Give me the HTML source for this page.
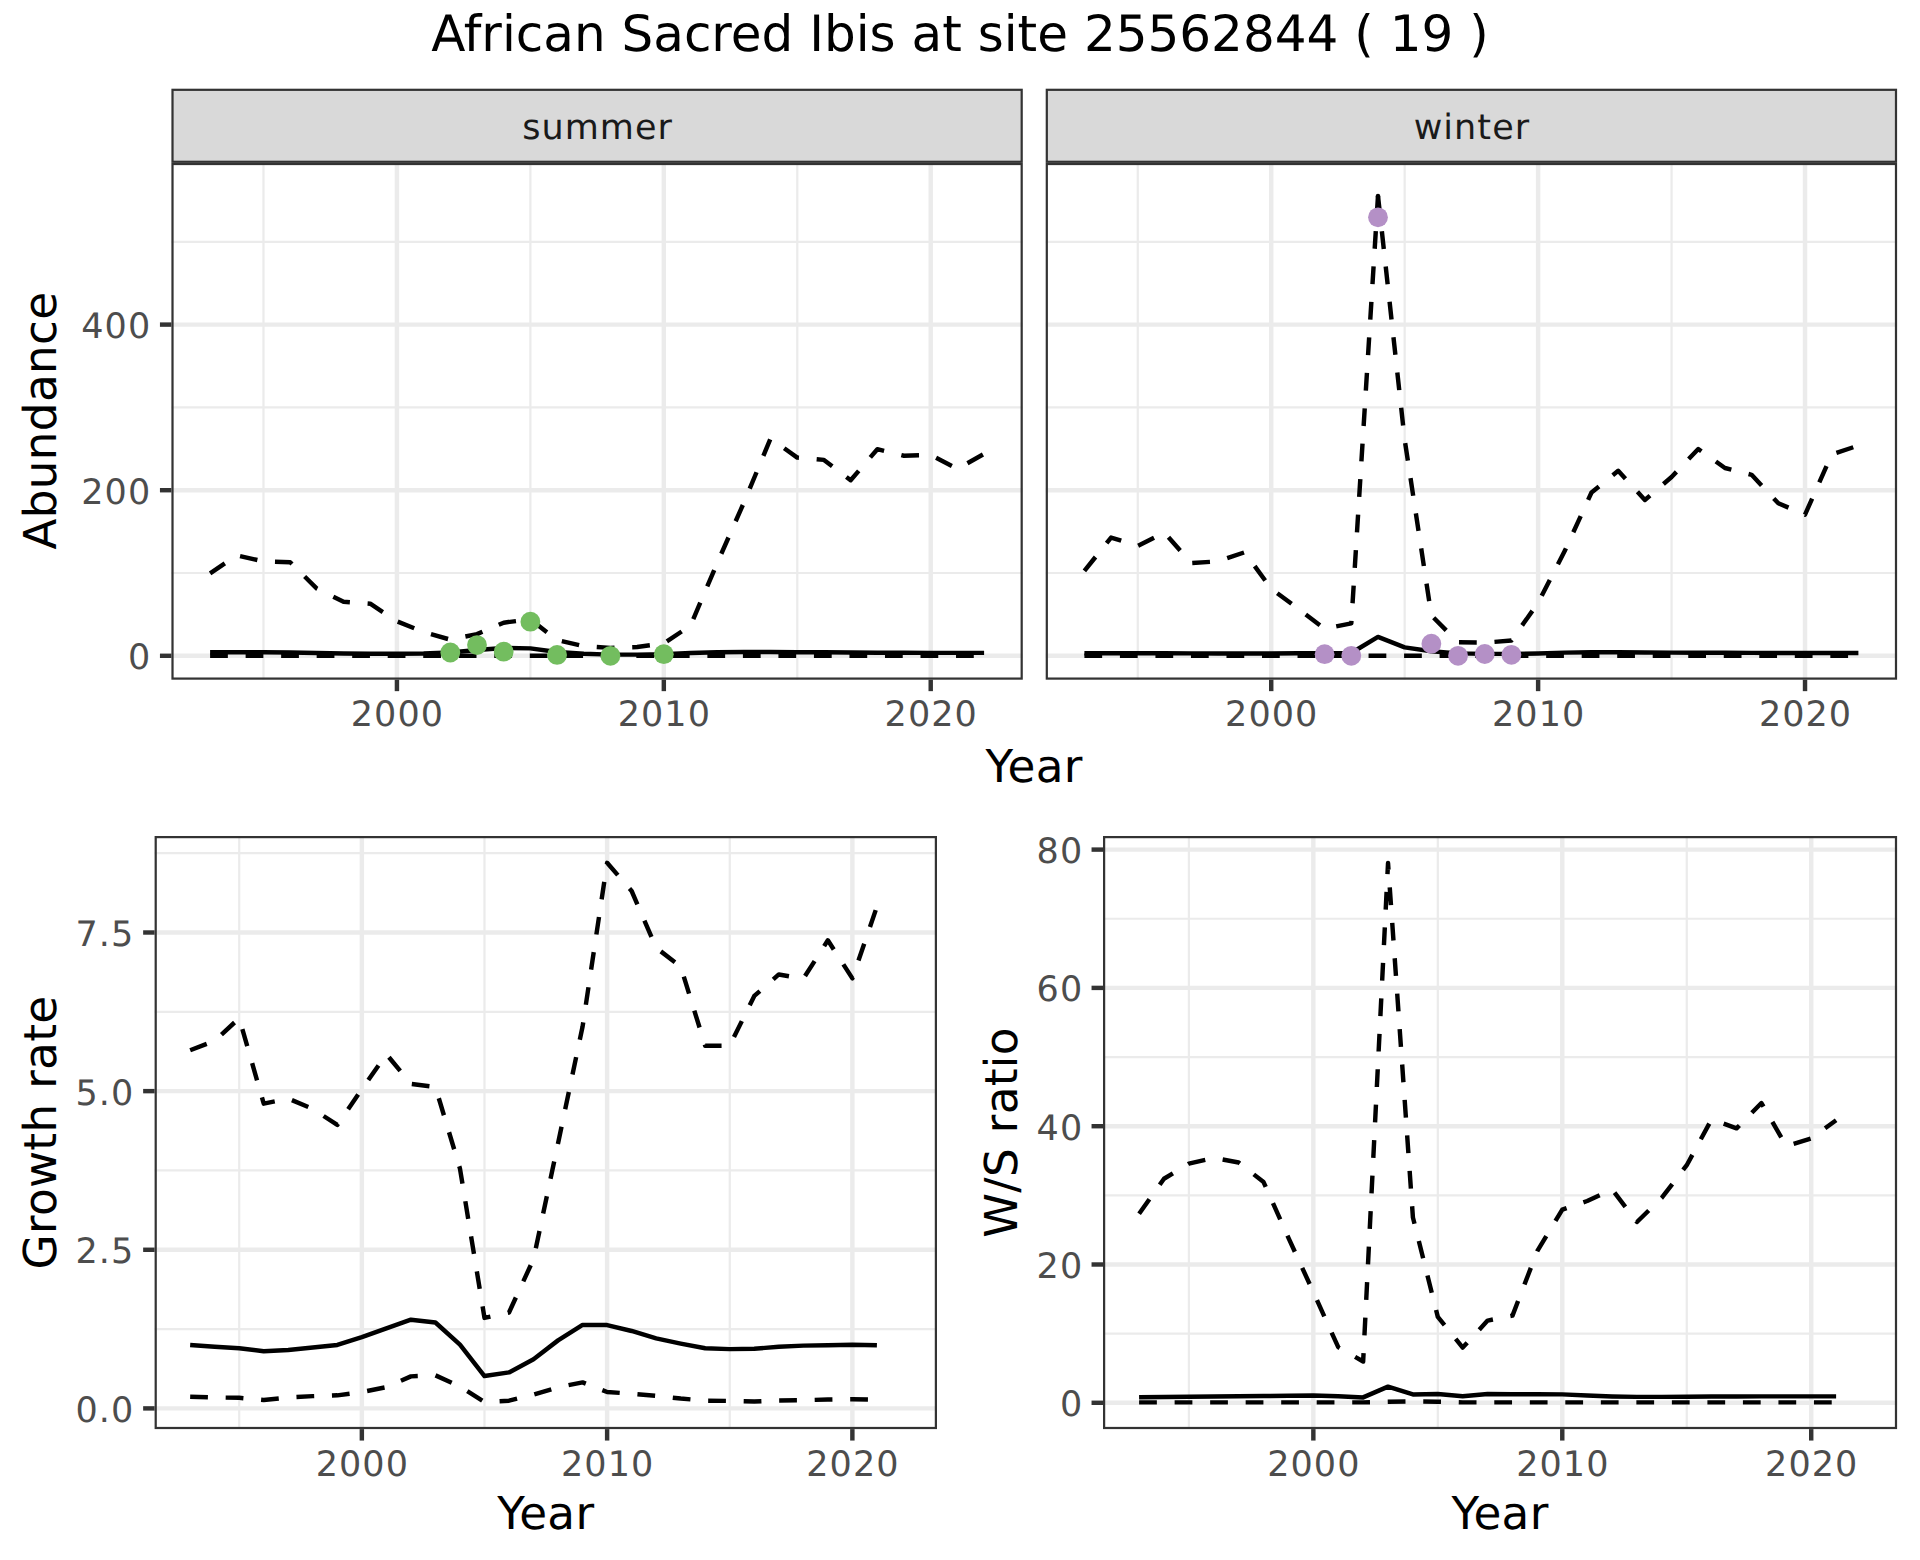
<!DOCTYPE html>
<html lang="en"><head><meta charset="utf-8"><title>African Sacred Ibis at site 25562844</title>
<style>html,body{margin:0;padding:0;background:#fff}svg{display:block}text{font-family:"DejaVu Sans", "Liberation Sans", sans-serif;text-rendering:geometricPrecision}</style>
</head><body>
<svg width="1920" height="1560" viewBox="0 0 1920 1560">
<rect width="1920" height="1560" fill="#fff"/>
<text x="960" y="50.8" text-anchor="middle" font-size="50" fill="#000">African Sacred Ibis at site 25562844 ( 19 )</text>
<rect x="171.4" y="162.9" width="851.4" height="516.8000000000001" fill="#fff"/>
<line x1="263.48" x2="263.48" y1="162.9" y2="679.7" stroke="#EBEBEB" stroke-width="2.22"/>
<line x1="530.38" x2="530.38" y1="162.9" y2="679.7" stroke="#EBEBEB" stroke-width="2.22"/>
<line x1="797.27" x2="797.27" y1="162.9" y2="679.7" stroke="#EBEBEB" stroke-width="2.22"/>
<line x1="171.4" x2="1022.8" y1="573.00" y2="573.00" stroke="#EBEBEB" stroke-width="2.22"/>
<line x1="171.4" x2="1022.8" y1="407.40" y2="407.40" stroke="#EBEBEB" stroke-width="2.22"/>
<line x1="171.4" x2="1022.8" y1="241.80" y2="241.80" stroke="#EBEBEB" stroke-width="2.22"/>
<line x1="396.93" x2="396.93" y1="162.9" y2="679.7" stroke="#EBEBEB" stroke-width="4.44"/>
<line x1="663.82" x2="663.82" y1="162.9" y2="679.7" stroke="#EBEBEB" stroke-width="4.44"/>
<line x1="930.72" x2="930.72" y1="162.9" y2="679.7" stroke="#EBEBEB" stroke-width="4.44"/>
<line x1="171.4" x2="1022.8" y1="655.80" y2="655.80" stroke="#EBEBEB" stroke-width="4.44"/>
<line x1="171.4" x2="1022.8" y1="490.20" y2="490.20" stroke="#EBEBEB" stroke-width="4.44"/>
<line x1="171.4" x2="1022.8" y1="324.60" y2="324.60" stroke="#EBEBEB" stroke-width="4.44"/>
<polyline points="210.10,655.80 236.79,655.80 263.48,655.80 290.17,655.80 316.86,655.80 343.55,655.80 370.24,655.80 396.93,655.80 423.62,655.80 450.31,655.80 477.00,655.80 503.69,655.80 530.38,655.80 557.07,655.80 583.76,655.80 610.44,655.80 637.13,655.80 663.82,655.80 690.51,655.80 717.20,655.80 743.89,655.80 770.58,655.80 797.27,655.80 823.96,655.80 850.65,655.80 877.34,655.80 904.03,655.80 930.72,655.80 957.41,655.80 984.10,655.80" fill="none" stroke="#000" stroke-width="4.44" stroke-linejoin="round" stroke-dasharray="17.76 17.76"/>
<polyline points="210.10,573.33 236.79,555.36 263.48,561.41 290.17,562.24 316.86,588.57 343.55,601.73 370.24,603.72 396.93,621.36 423.62,632.04 450.31,639.65 477.00,634.11 503.69,622.68 530.38,619.20 557.07,640.07 583.76,646.20 610.44,647.85 637.13,647.02 663.82,643.38 690.51,625.58 717.20,563.06 743.89,502.62 770.58,438.53 797.27,457.66 823.96,459.90 850.65,480.26 877.34,449.21 904.03,455.76 930.72,455.01 957.41,468.84 984.10,453.85" fill="none" stroke="#000" stroke-width="4.44" stroke-linejoin="round" stroke-dasharray="17.76 17.76"/>
<polyline points="210.10,652.24 236.79,652.24 263.48,652.32 290.17,652.49 316.86,652.98 343.55,653.48 370.24,653.73 396.93,653.73 423.62,653.48 450.31,652.49 477.00,650.00 503.69,648.02 530.38,648.35 557.07,651.99 583.76,653.81 610.44,654.64 637.13,654.64 663.82,654.31 690.51,652.98 717.20,652.16 743.89,651.99 770.58,652.07 797.27,652.16 823.96,652.32 850.65,652.57 877.34,652.74 904.03,652.82 930.72,652.90 957.41,652.90 984.10,652.90" fill="none" stroke="#000" stroke-width="4.44" stroke-linejoin="round"/>
<circle cx="450.31" cy="652.49" r="9.9" fill="#73BD5F"/>
<circle cx="477.00" cy="645.04" r="9.9" fill="#73BD5F"/>
<circle cx="503.69" cy="651.66" r="9.9" fill="#73BD5F"/>
<circle cx="530.38" cy="621.69" r="9.9" fill="#73BD5F"/>
<circle cx="557.07" cy="654.97" r="9.9" fill="#73BD5F"/>
<circle cx="610.44" cy="655.80" r="9.9" fill="#73BD5F"/>
<circle cx="663.82" cy="654.14" r="9.9" fill="#73BD5F"/>
<rect x="172.51" y="164.01" width="849.18" height="514.58" fill="none" stroke="#333" stroke-width="2.22"/>
<line x1="396.93" x2="396.93" y1="679.7" y2="691.1600000000001" stroke="#333" stroke-width="4.44"/>
<text x="397.46" y="725.9" text-anchor="middle" font-size="35.0" letter-spacing="1.062" fill="#4D4D4D">2000</text>
<line x1="663.82" x2="663.82" y1="679.7" y2="691.1600000000001" stroke="#333" stroke-width="4.44"/>
<text x="664.36" y="725.9" text-anchor="middle" font-size="35.0" letter-spacing="1.062" fill="#4D4D4D">2010</text>
<line x1="930.72" x2="930.72" y1="679.7" y2="691.1600000000001" stroke="#333" stroke-width="4.44"/>
<text x="931.25" y="725.9" text-anchor="middle" font-size="35.0" letter-spacing="1.062" fill="#4D4D4D">2020</text>
<line x1="159.94" x2="171.4" y1="655.80" y2="655.80" stroke="#333" stroke-width="4.44"/>
<text x="151.26" y="669.24" text-anchor="end" font-size="35.0" letter-spacing="1.062" fill="#4D4D4D">0</text>
<line x1="159.94" x2="171.4" y1="490.20" y2="490.20" stroke="#333" stroke-width="4.44"/>
<text x="151.26" y="503.64" text-anchor="end" font-size="35.0" letter-spacing="1.062" fill="#4D4D4D">200</text>
<line x1="159.94" x2="171.4" y1="324.60" y2="324.60" stroke="#333" stroke-width="4.44"/>
<text x="151.26" y="338.04" text-anchor="end" font-size="35.0" letter-spacing="1.062" fill="#4D4D4D">400</text>
<rect x="172.51" y="89.81" width="849.18" height="71.98" fill="#D9D9D9" stroke="#333" stroke-width="2.22"/>
<text x="597.63" y="138.8" text-anchor="middle" font-size="35.0" letter-spacing="1.062" fill="#1A1A1A">summer</text>
<rect x="1045.7" y="162.9" width="851.3999999999999" height="516.8000000000001" fill="#fff"/>
<line x1="1137.78" x2="1137.78" y1="162.9" y2="679.7" stroke="#EBEBEB" stroke-width="2.22"/>
<line x1="1404.68" x2="1404.68" y1="162.9" y2="679.7" stroke="#EBEBEB" stroke-width="2.22"/>
<line x1="1671.57" x2="1671.57" y1="162.9" y2="679.7" stroke="#EBEBEB" stroke-width="2.22"/>
<line x1="1045.7" x2="1897.1" y1="573.00" y2="573.00" stroke="#EBEBEB" stroke-width="2.22"/>
<line x1="1045.7" x2="1897.1" y1="407.40" y2="407.40" stroke="#EBEBEB" stroke-width="2.22"/>
<line x1="1045.7" x2="1897.1" y1="241.80" y2="241.80" stroke="#EBEBEB" stroke-width="2.22"/>
<line x1="1271.23" x2="1271.23" y1="162.9" y2="679.7" stroke="#EBEBEB" stroke-width="4.44"/>
<line x1="1538.12" x2="1538.12" y1="162.9" y2="679.7" stroke="#EBEBEB" stroke-width="4.44"/>
<line x1="1805.02" x2="1805.02" y1="162.9" y2="679.7" stroke="#EBEBEB" stroke-width="4.44"/>
<line x1="1045.7" x2="1897.1" y1="655.80" y2="655.80" stroke="#EBEBEB" stroke-width="4.44"/>
<line x1="1045.7" x2="1897.1" y1="490.20" y2="490.20" stroke="#EBEBEB" stroke-width="4.44"/>
<line x1="1045.7" x2="1897.1" y1="324.60" y2="324.60" stroke="#EBEBEB" stroke-width="4.44"/>
<polyline points="1084.40,655.80 1111.09,655.80 1137.78,655.80 1164.47,655.80 1191.16,655.80 1217.85,655.80 1244.54,655.80 1271.23,655.80 1297.92,655.80 1324.61,655.80 1351.30,655.80 1377.99,655.80 1404.68,655.80 1431.37,655.80 1458.06,655.80 1484.74,655.80 1511.43,655.80 1538.12,655.80 1564.81,655.80 1591.50,655.80 1618.19,655.80 1644.88,655.80 1671.57,655.80 1698.26,655.80 1724.95,655.80 1751.64,655.80 1778.33,655.80 1805.02,655.80 1831.71,655.80 1858.40,655.80" fill="none" stroke="#000" stroke-width="4.44" stroke-linejoin="round" stroke-dasharray="17.76 17.76"/>
<polyline points="1084.40,570.85 1111.09,537.56 1137.78,545.92 1164.47,532.59 1191.16,563.06 1217.85,561.41 1244.54,552.30 1271.23,588.73 1297.92,608.52 1324.61,628.81 1351.30,623.34 1377.99,195.93" fill="none" stroke="#000" stroke-width="4.44" stroke-linejoin="round" stroke-dasharray="17.76 17.76"/>
<polyline points="1377.99,195.93 1404.68,439.69 1431.37,615.39 1458.06,642.30 1484.74,642.63 1511.43,640.48 1538.12,602.81 1564.81,550.81 1591.50,492.52 1618.19,470.82 1644.88,499.97 1671.57,476.95 1698.26,448.97 1724.95,468.01 1751.64,474.80 1778.33,503.28 1805.02,514.63 1831.71,454.35 1858.40,445.57" fill="none" stroke="#000" stroke-width="4.44" stroke-linejoin="round" stroke-dasharray="17.76 17.76"/>
<circle cx="1377.99" cy="195.93" r="2.22" fill="#000"/>
<polyline points="1084.40,653.32 1111.09,653.32 1137.78,653.32 1164.47,653.32 1191.16,653.40 1217.85,653.48 1244.54,653.48 1271.23,653.48 1297.92,653.32 1324.61,653.15 1351.30,652.98 1377.99,636.92 1404.68,647.35 1431.37,651.25 1458.06,653.40 1484.74,653.90 1511.43,653.90 1538.12,653.56 1564.81,652.65 1591.50,652.32 1618.19,652.32 1644.88,652.49 1671.57,652.65 1698.26,652.74 1724.95,652.82 1751.64,652.90 1778.33,652.98 1805.02,652.98 1831.71,652.98 1858.40,652.98" fill="none" stroke="#000" stroke-width="4.44" stroke-linejoin="round"/>
<circle cx="1324.61" cy="654.14" r="9.9" fill="#B490C6"/>
<circle cx="1351.30" cy="655.80" r="9.9" fill="#B490C6"/>
<circle cx="1377.99" cy="217.29" r="9.9" fill="#B490C6"/>
<circle cx="1431.37" cy="643.71" r="9.9" fill="#B490C6"/>
<circle cx="1458.06" cy="655.80" r="9.9" fill="#B490C6"/>
<circle cx="1484.74" cy="653.98" r="9.9" fill="#B490C6"/>
<circle cx="1511.43" cy="654.81" r="9.9" fill="#B490C6"/>
<rect x="1046.81" y="164.01" width="849.18" height="514.58" fill="none" stroke="#333" stroke-width="2.22"/>
<line x1="1271.23" x2="1271.23" y1="679.7" y2="691.1600000000001" stroke="#333" stroke-width="4.44"/>
<text x="1271.76" y="725.9" text-anchor="middle" font-size="35.0" letter-spacing="1.062" fill="#4D4D4D">2000</text>
<line x1="1538.12" x2="1538.12" y1="679.7" y2="691.1600000000001" stroke="#333" stroke-width="4.44"/>
<text x="1538.66" y="725.9" text-anchor="middle" font-size="35.0" letter-spacing="1.062" fill="#4D4D4D">2010</text>
<line x1="1805.02" x2="1805.02" y1="679.7" y2="691.1600000000001" stroke="#333" stroke-width="4.44"/>
<text x="1805.55" y="725.9" text-anchor="middle" font-size="35.0" letter-spacing="1.062" fill="#4D4D4D">2020</text>
<rect x="1046.81" y="89.81" width="849.18" height="71.98" fill="#D9D9D9" stroke="#333" stroke-width="2.22"/>
<text x="1471.93" y="138.8" text-anchor="middle" font-size="35.0" letter-spacing="1.062" fill="#1A1A1A">winter</text>
<text x="1034.2" y="782" text-anchor="middle" font-size="45.3" letter-spacing="0.32" fill="#000">Year</text>
<text transform="translate(56,420.6) rotate(-90)" text-anchor="middle" font-size="45.3" letter-spacing="0.32" fill="#000">Abundance</text>
<rect x="154.6" y="836" width="782.4" height="593.0999999999999" fill="#fff"/>
<line x1="239.22" x2="239.22" y1="836" y2="1429.1" stroke="#EBEBEB" stroke-width="2.22"/>
<line x1="484.48" x2="484.48" y1="836" y2="1429.1" stroke="#EBEBEB" stroke-width="2.22"/>
<line x1="729.75" x2="729.75" y1="836" y2="1429.1" stroke="#EBEBEB" stroke-width="2.22"/>
<line x1="154.6" x2="937" y1="1329.08" y2="1329.08" stroke="#EBEBEB" stroke-width="2.22"/>
<line x1="154.6" x2="937" y1="1170.45" y2="1170.45" stroke="#EBEBEB" stroke-width="2.22"/>
<line x1="154.6" x2="937" y1="1011.82" y2="1011.82" stroke="#EBEBEB" stroke-width="2.22"/>
<line x1="154.6" x2="937" y1="853.18" y2="853.18" stroke="#EBEBEB" stroke-width="2.22"/>
<line x1="361.85" x2="361.85" y1="836" y2="1429.1" stroke="#EBEBEB" stroke-width="4.44"/>
<line x1="607.12" x2="607.12" y1="836" y2="1429.1" stroke="#EBEBEB" stroke-width="4.44"/>
<line x1="852.38" x2="852.38" y1="836" y2="1429.1" stroke="#EBEBEB" stroke-width="4.44"/>
<line x1="154.6" x2="937" y1="1408.40" y2="1408.40" stroke="#EBEBEB" stroke-width="4.44"/>
<line x1="154.6" x2="937" y1="1249.77" y2="1249.77" stroke="#EBEBEB" stroke-width="4.44"/>
<line x1="154.6" x2="937" y1="1091.13" y2="1091.13" stroke="#EBEBEB" stroke-width="4.44"/>
<line x1="154.6" x2="937" y1="932.50" y2="932.50" stroke="#EBEBEB" stroke-width="4.44"/>
<polyline points="190.16,1396.66 214.69,1397.49 239.22,1397.80 263.74,1400.02 288.27,1397.49 312.80,1396.15 337.32,1395.33 361.85,1392.03 386.38,1387.14 410.90,1376.36 435.43,1375.34 459.96,1386.38 484.48,1402.05 509.01,1400.72 533.54,1394.63 558.06,1387.21 582.59,1382.38 607.12,1392.03 631.64,1393.74 656.17,1395.90 680.70,1398.56 705.22,1400.66 729.75,1400.91 754.28,1401.55 778.80,1400.47 803.33,1400.21 827.86,1399.52 852.38,1399.26 876.91,1399.77" fill="none" stroke="#000" stroke-width="4.44" stroke-linejoin="round" stroke-dasharray="17.76 17.76"/>
<polyline points="190.16,1050.27 214.69,1040.81 239.22,1018.16 263.74,1103.63 288.27,1098.62 312.80,1108.96 337.32,1124.95 361.85,1089.17 386.38,1054.14 410.90,1083.96 435.43,1087.01 459.96,1168.55 484.48,1317.92 509.01,1312.46 533.54,1259.09 558.06,1143.17 582.59,1026.54 607.12,862.83 631.64,891.00 656.17,947.79 680.70,966.57 705.22,1045.83 729.75,1045.64 754.28,995.95 778.80,974.44 803.33,978.76 827.86,940.30 852.38,978.38 876.91,906.61" fill="none" stroke="#000" stroke-width="4.44" stroke-linejoin="round" stroke-dasharray="17.76 17.76"/>
<polyline points="190.16,1345.01 214.69,1346.66 239.22,1348.31 263.74,1351.29 288.27,1350.02 312.80,1347.48 337.32,1344.95 361.85,1337.21 386.38,1328.32 410.90,1319.69 435.43,1322.48 459.96,1344.63 484.48,1376.04 509.01,1372.42 533.54,1359.29 558.06,1340.38 582.59,1324.90 607.12,1325.09 631.64,1330.99 656.17,1338.41 680.70,1343.55 705.22,1348.25 729.75,1349.13 754.28,1348.75 778.80,1346.72 803.33,1345.64 827.86,1345.33 852.38,1344.69 876.91,1345.33" fill="none" stroke="#000" stroke-width="4.44" stroke-linejoin="round"/>
<rect x="155.71" y="837.11" width="780.18" height="590.88" fill="none" stroke="#333" stroke-width="2.22"/>
<line x1="361.85" x2="361.85" y1="1429.1" y2="1440.56" stroke="#333" stroke-width="4.44"/>
<text x="362.38" y="1475.9" text-anchor="middle" font-size="35.0" letter-spacing="1.062" fill="#4D4D4D">2000</text>
<line x1="607.12" x2="607.12" y1="1429.1" y2="1440.56" stroke="#333" stroke-width="4.44"/>
<text x="607.65" y="1475.9" text-anchor="middle" font-size="35.0" letter-spacing="1.062" fill="#4D4D4D">2010</text>
<line x1="852.38" x2="852.38" y1="1429.1" y2="1440.56" stroke="#333" stroke-width="4.44"/>
<text x="852.91" y="1475.9" text-anchor="middle" font-size="35.0" letter-spacing="1.062" fill="#4D4D4D">2020</text>
<line x1="143.14" x2="154.6" y1="1408.40" y2="1408.40" stroke="#333" stroke-width="4.44"/>
<text x="134.26" y="1421.84" text-anchor="end" font-size="35.0" letter-spacing="1.062" fill="#4D4D4D">0.0</text>
<line x1="143.14" x2="154.6" y1="1249.77" y2="1249.77" stroke="#333" stroke-width="4.44"/>
<text x="134.26" y="1263.21" text-anchor="end" font-size="35.0" letter-spacing="1.062" fill="#4D4D4D">2.5</text>
<line x1="143.14" x2="154.6" y1="1091.13" y2="1091.13" stroke="#333" stroke-width="4.44"/>
<text x="134.26" y="1104.57" text-anchor="end" font-size="35.0" letter-spacing="1.062" fill="#4D4D4D">5.0</text>
<line x1="143.14" x2="154.6" y1="932.50" y2="932.50" stroke="#333" stroke-width="4.44"/>
<text x="134.26" y="945.94" text-anchor="end" font-size="35.0" letter-spacing="1.062" fill="#4D4D4D">7.5</text>
<text x="545.8" y="1529" text-anchor="middle" font-size="45.3" letter-spacing="0.32" fill="#000">Year</text>
<text transform="translate(56,1132.5) rotate(-90)" text-anchor="middle" font-size="45.3" letter-spacing="0.32" fill="#000">Growth rate</text>
<rect x="1103" y="836" width="794.0999999999999" height="593.0999999999999" fill="#fff"/>
<line x1="1188.88" x2="1188.88" y1="836" y2="1429.1" stroke="#EBEBEB" stroke-width="2.22"/>
<line x1="1437.82" x2="1437.82" y1="836" y2="1429.1" stroke="#EBEBEB" stroke-width="2.22"/>
<line x1="1686.75" x2="1686.75" y1="836" y2="1429.1" stroke="#EBEBEB" stroke-width="2.22"/>
<line x1="1103" x2="1897.1" y1="1333.65" y2="1333.65" stroke="#EBEBEB" stroke-width="2.22"/>
<line x1="1103" x2="1897.1" y1="1195.35" y2="1195.35" stroke="#EBEBEB" stroke-width="2.22"/>
<line x1="1103" x2="1897.1" y1="1057.05" y2="1057.05" stroke="#EBEBEB" stroke-width="2.22"/>
<line x1="1103" x2="1897.1" y1="918.75" y2="918.75" stroke="#EBEBEB" stroke-width="2.22"/>
<line x1="1313.35" x2="1313.35" y1="836" y2="1429.1" stroke="#EBEBEB" stroke-width="4.44"/>
<line x1="1562.28" x2="1562.28" y1="836" y2="1429.1" stroke="#EBEBEB" stroke-width="4.44"/>
<line x1="1811.22" x2="1811.22" y1="836" y2="1429.1" stroke="#EBEBEB" stroke-width="4.44"/>
<line x1="1103" x2="1897.1" y1="1402.80" y2="1402.80" stroke="#EBEBEB" stroke-width="4.44"/>
<line x1="1103" x2="1897.1" y1="1264.50" y2="1264.50" stroke="#EBEBEB" stroke-width="4.44"/>
<line x1="1103" x2="1897.1" y1="1126.20" y2="1126.20" stroke="#EBEBEB" stroke-width="4.44"/>
<line x1="1103" x2="1897.1" y1="987.90" y2="987.90" stroke="#EBEBEB" stroke-width="4.44"/>
<line x1="1103" x2="1897.1" y1="849.60" y2="849.60" stroke="#EBEBEB" stroke-width="4.44"/>
<polyline points="1139.10,1402.39 1163.99,1402.39 1188.88,1402.39 1213.78,1402.39 1238.67,1402.39 1263.56,1402.39 1288.46,1402.39 1313.35,1402.39 1338.24,1402.39 1363.14,1402.39 1388.03,1401.76 1412.92,1401.42 1437.82,1401.76 1462.71,1402.39 1487.60,1402.39 1512.50,1402.39 1537.39,1402.39 1562.28,1402.39 1587.18,1402.39 1612.07,1402.39 1636.96,1402.39 1661.86,1402.39 1686.75,1402.39 1711.64,1402.39 1736.54,1402.39 1761.43,1402.39 1786.32,1402.39 1811.22,1402.39 1836.11,1402.39" fill="none" stroke="#000" stroke-width="4.44" stroke-linejoin="round" stroke-dasharray="17.76 17.76"/>
<polyline points="1139.10,1213.67 1163.99,1178.75 1188.88,1163.68 1213.78,1157.87 1238.67,1162.50 1263.56,1182.07 1288.46,1237.81 1313.35,1292.16 1338.24,1347.20 1363.14,1361.52 1388.03,863.02 1412.92,1217.48 1437.82,1316.85 1462.71,1347.55 1487.60,1320.58 1512.50,1315.60 1537.39,1250.88 1562.28,1209.59 1587.18,1201.02 1612.07,1189.47 1636.96,1221.97 1661.86,1197.70 1686.75,1165.20 1711.64,1119.28 1736.54,1128.34 1761.43,1103.03 1786.32,1146.05 1811.22,1138.37 1836.11,1120.32" fill="none" stroke="#000" stroke-width="4.44" stroke-linejoin="round" stroke-dasharray="17.76 17.76"/>
<polyline points="1139.10,1397.20 1163.99,1396.99 1188.88,1396.78 1213.78,1396.58 1238.67,1396.30 1263.56,1396.02 1288.46,1395.75 1313.35,1395.54 1338.24,1396.30 1363.14,1397.41 1388.03,1386.62 1412.92,1394.43 1437.82,1394.02 1462.71,1396.30 1487.60,1394.02 1512.50,1394.23 1537.39,1394.23 1562.28,1394.36 1587.18,1395.54 1612.07,1396.44 1636.96,1396.85 1661.86,1396.85 1686.75,1396.78 1711.64,1396.58 1736.54,1396.44 1761.43,1396.37 1786.32,1396.37 1811.22,1396.37 1836.11,1396.37" fill="none" stroke="#000" stroke-width="4.44" stroke-linejoin="round"/>
<rect x="1104.11" y="837.11" width="791.88" height="590.88" fill="none" stroke="#333" stroke-width="2.22"/>
<line x1="1313.35" x2="1313.35" y1="1429.1" y2="1440.56" stroke="#333" stroke-width="4.44"/>
<text x="1313.88" y="1475.9" text-anchor="middle" font-size="35.0" letter-spacing="1.062" fill="#4D4D4D">2000</text>
<line x1="1562.28" x2="1562.28" y1="1429.1" y2="1440.56" stroke="#333" stroke-width="4.44"/>
<text x="1562.81" y="1475.9" text-anchor="middle" font-size="35.0" letter-spacing="1.062" fill="#4D4D4D">2010</text>
<line x1="1811.22" x2="1811.22" y1="1429.1" y2="1440.56" stroke="#333" stroke-width="4.44"/>
<text x="1811.75" y="1475.9" text-anchor="middle" font-size="35.0" letter-spacing="1.062" fill="#4D4D4D">2020</text>
<line x1="1091.54" x2="1103" y1="1402.80" y2="1402.80" stroke="#333" stroke-width="4.44"/>
<text x="1083.26" y="1416.24" text-anchor="end" font-size="35.0" letter-spacing="1.062" fill="#4D4D4D">0</text>
<line x1="1091.54" x2="1103" y1="1264.50" y2="1264.50" stroke="#333" stroke-width="4.44"/>
<text x="1083.26" y="1277.94" text-anchor="end" font-size="35.0" letter-spacing="1.062" fill="#4D4D4D">20</text>
<line x1="1091.54" x2="1103" y1="1126.20" y2="1126.20" stroke="#333" stroke-width="4.44"/>
<text x="1083.26" y="1139.64" text-anchor="end" font-size="35.0" letter-spacing="1.062" fill="#4D4D4D">40</text>
<line x1="1091.54" x2="1103" y1="987.90" y2="987.90" stroke="#333" stroke-width="4.44"/>
<text x="1083.26" y="1001.34" text-anchor="end" font-size="35.0" letter-spacing="1.062" fill="#4D4D4D">60</text>
<line x1="1091.54" x2="1103" y1="849.60" y2="849.60" stroke="#333" stroke-width="4.44"/>
<text x="1083.26" y="863.04" text-anchor="end" font-size="35.0" letter-spacing="1.062" fill="#4D4D4D">80</text>
<text x="1500" y="1529" text-anchor="middle" font-size="45.3" letter-spacing="0.32" fill="#000">Year</text>
<text transform="translate(1017,1132.5) rotate(-90)" text-anchor="middle" font-size="45.3" letter-spacing="0.32" fill="#000">W/S ratio</text>
</svg>
</body></html>
